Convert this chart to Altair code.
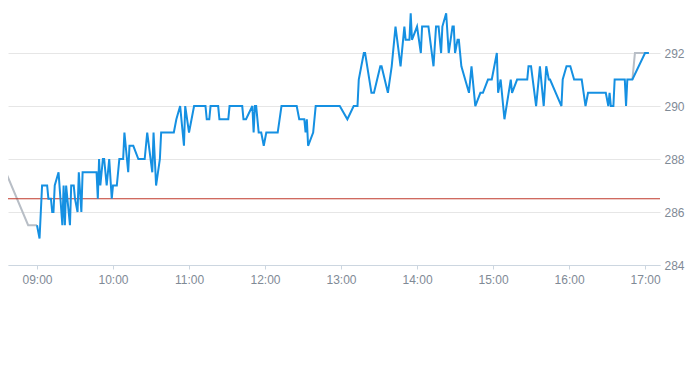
import altair as alt
import pandas as pd

DAY = "2024-01-02"

# Intraday price series (blue)
price_times = [
    "09:00", "09:02", "09:04", "09:08", "09:09", "09:11", "09:12", "09:13", "09:14", "09:17",
    "09:20", "09:21", "09:22", "09:23", "09:26", "09:27", "09:29", "09:30", "09:32", "09:33",
    "09:35", "09:36", "09:47", "09:48", "09:49", "09:50", "09:52", "09:53", "09:55", "09:57",
    "09:59", "10:00", "10:03", "10:05", "10:08", "10:09", "10:12", "10:13", "10:16", "10:20",
    "10:25", "10:27", "10:31", "10:32", "10:34", "10:37", "10:38", "10:48", "10:50", "10:53",
    "10:56", "10:57", "11:00", "11:04", "11:13", "11:14", "11:16", "11:17", "11:23", "11:24",
    "11:31", "11:32", "11:42", "11:43", "11:45", "11:50", "11:51", "11:52", "11:53", "11:55",
    "11:57", "11:59", "12:01", "12:10", "12:13", "12:25", "12:27", "12:31", "12:32", "12:33",
    "12:34", "12:38", "12:40", "12:59", "13:05", "13:10", "13:13", "13:14", "13:16", "13:18",
    "13:19", "13:24", "13:26", "13:31", "13:32", "13:37", "13:40", "13:43", "13:47", "13:50",
    "13:51", "13:54", "13:55", "13:56", "14:00", "14:03", "14:04", "14:09", "14:13", "14:15",
    "14:17", "14:19", "14:20", "14:23", "14:25", "14:28", "14:29", "14:30", "14:32", "14:33",
    "14:35", "14:41", "14:43", "14:46", "14:50", "14:52", "14:56", "14:59", "15:03", "15:04",
    "15:06", "15:09", "15:14", "15:15", "15:19", "15:27", "15:28", "15:30", "15:34", "15:37",
    "15:40", "15:42", "15:44", "15:45", "15:54", "15:55", "15:58", "16:01", "16:04", "16:10",
    "16:13", "16:15", "16:29", "16:31", "16:32", "16:33", "16:35", "16:36", "16:44", "16:45",
    "16:46", "16:50", "17:00", "17:03",
]
price_values = [
    285.5, 285.0, 287.0, 287.0, 286.5, 286.5, 286.0, 286.0, 287.0, 287.5,
    285.5, 287.0, 285.5, 287.0, 285.5, 287.0, 287.0, 286.5, 286.0, 287.5,
    286.0, 287.5, 287.5, 286.5, 288.0, 287.0, 288.0, 288.0, 287.0, 288.0,
    286.5, 287.0, 287.0, 288.0, 288.0, 289.0, 287.5, 288.5, 288.5, 288.0,
    288.0, 289.0, 287.5, 289.0, 287.0, 288.0, 289.0, 289.0, 289.5, 290.0,
    288.5, 290.0, 289.0, 290.0, 290.0, 289.5, 289.5, 290.0, 290.0, 289.5,
    289.5, 290.0, 290.0, 289.5, 289.5, 290.0, 289.0, 290.0, 290.0, 289.0,
    289.0, 288.5, 289.0, 289.0, 290.0, 290.0, 289.5, 289.5, 289.0, 289.5,
    288.5, 289.0, 290.0, 290.0, 289.5, 290.0, 290.0, 291.0, 291.5, 292.0,
    292.0, 290.5, 290.5, 291.5, 291.5, 290.5, 291.5, 293.0, 291.5, 293.0,
    292.5, 292.5, 293.5, 292.5, 293.0, 292.0, 293.0, 293.0, 291.5, 293.0,
    293.0, 292.0, 293.0, 293.5, 292.0, 293.0, 293.0, 292.0, 292.5, 292.5,
    291.5, 290.5, 291.5, 290.0, 290.5, 290.5, 291.0, 291.0, 292.0, 290.5,
    291.0, 289.5, 291.0, 290.5, 291.0, 291.0, 291.5, 291.5, 290.0, 291.5,
    290.0, 291.5, 291.0, 291.0, 290.0, 291.0, 291.5, 291.5, 291.0, 291.0,
    290.0, 290.5, 290.5, 290.0, 290.5, 290.0, 290.0, 291.0, 291.0, 290.0,
    291.0, 291.0, 292.0, 292.0,
]

# Grey out-of-session segments
pre_times = ["08:31", "08:53", "09:00"]
pre_values = [288.0, 285.5, 285.5]
post_times = ["16:50", "16:52", "17:03"]
post_values = [291.0, 292.0, 292.0]

# Reference level (red line)
ref_level = 286.5

y_ticks = [284, 286, 288, 290, 292]
x_tick_hours = [9, 10, 11, 12, 13, 14, 15, 16, 17]


def frame(times, values):
    return pd.DataFrame({"t": [f"{DAY}T{t}:00" for t in times], "v": values})


main_df = frame(price_times, price_values)
pre_df = frame(pre_times, pre_values)
post_df = frame(post_times, post_values)
grey_df = pd.concat([pre_df.assign(seg="pre"), post_df.assign(seg="post")])
ref_df = pd.DataFrame({"v": [ref_level]})

label_color = "#7f8a96"
x_scale = alt.Scale(
    domain=[
        alt.DateTime(year=2024, month=1, date=2, hours=8, minutes=37, seconds=6),
        alt.DateTime(year=2024, month=1, date=2, hours=17, minutes=11, seconds=48),
    ]
)
y_scale = alt.Scale(domain=[284, 293.7], nice=False, zero=False)

x_axis = alt.Axis(
    values=[alt.DateTime(year=2024, month=1, date=2, hours=h) for h in x_tick_hours],
    format="%H:%M",
    title=None,
    grid=False,
    domainColor="#ccd6e0",
    tickColor="#ccd6e0",
    tickSize=4,
    labelPadding=5,
    labelColor=label_color,
    labelFontSize=12,
    labelFont="Liberation Sans",
)
y_axis = alt.Axis(
    orient="right",
    values=y_ticks,
    title=None,
    grid=True,
    gridColor="#e6e6e6",
    domain=False,
    ticks=False,
    labelPadding=4,
    labelColor=label_color,
    labelFontSize=12,
    labelFont="Liberation Sans",
)

grey = alt.Chart(grey_df).mark_line(color="#b8bec6", strokeWidth=2, clip=True).encode(
    x=alt.X("t:T", scale=x_scale, axis=x_axis),
    y=alt.Y("v:Q", scale=y_scale, axis=y_axis),
    detail="seg:N",
)
ref = alt.Chart(ref_df).mark_rule(color="#c0392b", strokeWidth=1).encode(
    y=alt.Y("v:Q", scale=y_scale)
)
main = alt.Chart(main_df).mark_line(color="#1590e2", strokeWidth=2, clip=True).encode(
    x=alt.X("t:T", scale=x_scale),
    y=alt.Y("v:Q", scale=y_scale),
)

chart = (
    alt.layer(grey, ref, main)
    .properties(
        width=652,
        height=257,
        autosize=alt.AutoSizeParams(type="none"),
        padding={"left": 0, "top": 0, "right": 25, "bottom": 30},
    )
    .configure_view(stroke=None)
)

chart.save("out.html", embed_options={"renderer": "svg", "actions": False})
